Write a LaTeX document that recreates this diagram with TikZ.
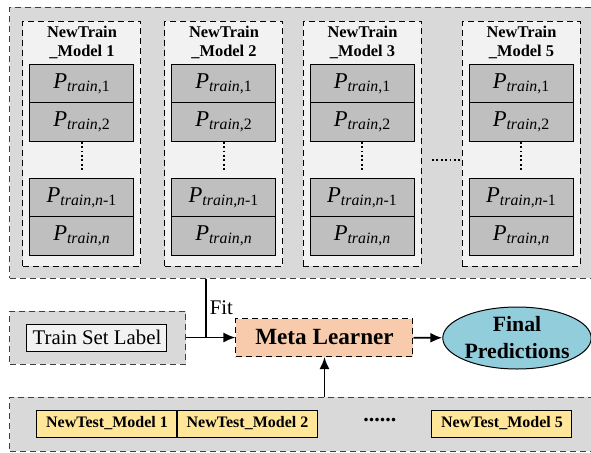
\documentclass[tikz,border=0pt]{standalone}
\usepackage{fontspec}
\setmainfont{Liberation Serif}
\usepackage{color}
\usetikzlibrary{arrows,arrows.meta,positioning,shapes.geometric}
\definecolor{groupgray}{HTML}{D9D9D9}
\definecolor{modelgray}{HTML}{F2F2F2}
\definecolor{pgray}{HTML}{BFBFBF}
\definecolor{metapeach}{HTML}{F8CBAD}
\definecolor{predblue}{HTML}{92CDDC}
\definecolor{testyellow}{HTML}{FFE699}
\tikzset{every picture/.style={line width=0.5pt}}
\tikzstyle{grp}=[draw=black!75,dash pattern=on 3pt off 2pt,fill=groupgray,inner sep=0pt]
\tikzstyle{mdl}=[draw,dash pattern=on 3pt off 2pt,fill=modelgray,minimum width=59pt,minimum height=122.5pt,inner sep=0pt]
\tikzstyle{pbox}=[draw,fill=pgray,minimum width=52pt,minimum height=19.25pt,inner sep=0pt,font=\fontsize{11.3}{13}\selectfont]
\tikzstyle{ttl}=[align=center,inner sep=0pt,font=\fontsize{8.2}{9.6}\selectfont\bfseries]
\tikzstyle{tbox}=[draw,fill=testyellow,minimum width=70pt,minimum height=13.5pt,inner sep=0pt,font=\fontsize{8}{9}\selectfont\bfseries]
\tikzstyle{dotline}=[line width=1pt,dash pattern=on 0.9pt off 1.3pt]
\newcommand{\ptr}[1]{\textit{P}\textsubscript{\textit{train},#1}}

\begin{document}
\begin{tikzpicture}[x=0.5pt,y=-0.5pt]
\useasboundingbox (0,0) rectangle (591,452);
% base models (train part)
\node[grp,minimum width=295pt,minimum height=135.5pt] (trainbox) at (305,142.5) {};
\node[mdl] (m1) at (82,143.5) {};
\node[mdl] (m2) at (224,143.5) {};
\node[mdl] (m3) at (362.5,143.5) {};
\node[mdl] (m5) at (521.5,143.5) {};
\node[ttl] (t1) at (82,42.5) {NewTrain\\\_Model 1};
\node[ttl] (t2) at (224,42.5) {NewTrain\\\_Model 2};
\node[ttl] (t3) at (362.5,42.5) {NewTrain\\\_Model 3};
\node[ttl] (t5) at (521.5,42.5) {NewTrain\\\_Model 5};
\node[pbox] (p11) at (82,83.5) {\ptr{1}};
\node[pbox] (p12) at (82,122) {\ptr{2}};
\node[pbox] (p1a) at (82,197.5) {\ptr{\textit{n}-1}};
\node[pbox] (p1n) at (82,236) {\ptr{\textit{n}}};
\node[pbox] (p21) at (224,83.5) {\ptr{1}};
\node[pbox] (p22) at (224,122) {\ptr{2}};
\node[pbox] (p2a) at (224,197.5) {\ptr{\textit{n}-1}};
\node[pbox] (p2n) at (224,236) {\ptr{\textit{n}}};
\node[pbox] (p31) at (362.5,83.5) {\ptr{1}};
\node[pbox] (p32) at (362.5,122) {\ptr{2}};
\node[pbox] (p3a) at (362.5,197.5) {\ptr{\textit{n}-1}};
\node[pbox] (p3n) at (362.5,236) {\ptr{\textit{n}}};
\node[pbox] (p51) at (521.5,83.5) {\ptr{1}};
\node[pbox] (p52) at (521.5,122) {\ptr{2}};
\node[pbox] (p5a) at (521.5,197.5) {\ptr{\textit{n}-1}};
\node[pbox] (p5n) at (521.5,236) {\ptr{\textit{n}}};
\coordinate (d1) at (82,170);
\coordinate (d2) at (224,170);
\coordinate (d3) at (362.5,170);
\coordinate (d5) at (521.5,170);
\coordinate (hd) at (432,160);
\draw[dotline] (p12.south) -- (d1);
\draw[dotline] (p22.south) -- (d2);
\draw[dotline] (p32.south) -- (d3);
\draw[dotline] (p52.south) -- (d5);
\draw[dotline] (hd) -- (m5.west |- hd);
% meta learner row
\node[grp,minimum width=88pt,minimum height=26.5pt] (labelgrp) at (98,337.5) {};
\node[draw,fill=modelgray,minimum width=70pt,minimum height=13.5pt,inner sep=0pt,font=\fontsize{10.4}{12}\selectfont] (label) at (97,337.5) {Train Set Label};
\node[draw,dash pattern=on 3pt off 2pt,fill=metapeach,minimum width=88.5pt,minimum height=19pt,inner sep=0pt,font=\fontsize{11.6}{13}\selectfont\bfseries] (meta) at (324.5,337.5) {Meta Learner};
\node[ellipse,draw,fill=predblue,minimum width=73pt,minimum height=31pt,inner sep=0pt,align=center,font=\fontsize{10.9}{13.5}\selectfont\bfseries] (pred) at (517,338) {Final\\Predictions};
% test part
\node[grp,minimum width=295pt,minimum height=27pt] (testbox) at (305,424) {};
\node[tbox] (n1) at (107,423.5) {NewTest\_Model 1};
\node[tbox] (n2) at (247.5,423.5) {NewTest\_Model 2};
\node[tbox] (n5) at (502,423.5) {NewTest\_Model 5};
\node[font=\fontsize{11}{12}\selectfont\bfseries] (ndots) at (380,420) {......};
\coordinate (J) at (206,337.5);
\draw[line width=0.9pt] (trainbox.south -| J) -- node[right,pos=0.5,inner sep=1.5pt,font=\fontsize{10.4}{12}\selectfont] (fit) {Fit} (J);
\path[->,line width=0.9pt,>={Latex[length=6pt,width=5pt]}]
(labelgrp) edge (meta)
(meta) edge (pred)
(testbox.north -| meta) edge (meta);
\end{tikzpicture}
\end{document}
